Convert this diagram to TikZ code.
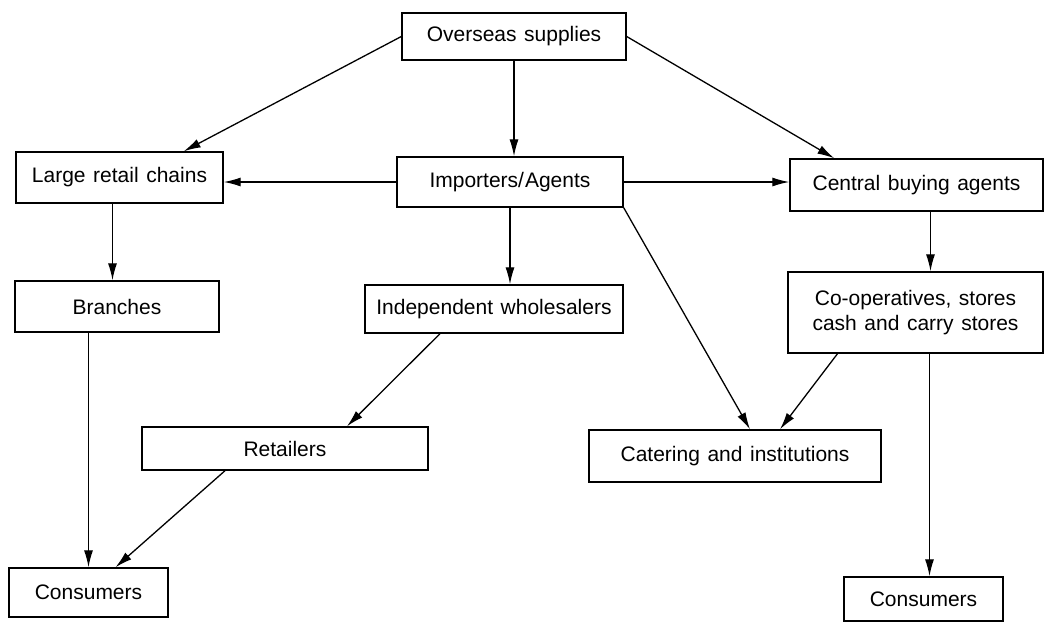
\documentclass[tikz,border=0pt]{standalone}
\usepackage{fontspec}
\setmainfont[WordSpace=1.3]{Liberation Sans}
\usetikzlibrary{arrows.meta}

\begin{document}
\begin{tikzpicture}[x=1pt, y=-1pt]
        \tikzstyle Box Node=[draw, line width=1.4pt, inner sep=0pt, align=center, font=\fontsize{21}{24.5}\selectfont]
        \tikzstyle Flow Line=[line width=1.3pt, -{Latex[length=17pt, width=9pt]}]

        \useasboundingbox (0, 0) rectangle (1045, 622);

        \node[Box Node, minimum width=224pt, minimum height=47pt] (over) at (514, 36.5) {Overseas supplies};
        \node[Box Node, minimum width=207pt, minimum height=51pt] (large) at (119.5, 177.5) {Large retail chains};
        \node[Box Node, minimum width=226pt, minimum height=50pt] (imp) at (510, 182) {Importers/\kern1pt Agents};
        \node[Box Node, minimum width=253pt, minimum height=52pt] (central) at (916.5, 185) {Central buying agents};
        \node[Box Node, minimum width=204pt, minimum height=51pt] (branches) at (117, 306.5) {Branches};
        \node[Box Node, minimum width=258pt, minimum height=48pt] (indep) at (494, 309) {Independent wholesalers};
        \node[Box Node, minimum width=255pt, minimum height=81pt] (coop) at (915.5, 312.5) {Co-operatives, stores\\cash and carry stores};
        \node[Box Node, minimum width=286pt, minimum height=43pt] (retail) at (285, 448.5) {Retailers};
        \node[Box Node, minimum width=292pt, minimum height=52pt] (cater) at (735, 456) {Catering and institutions};
        \node[Box Node, minimum width=159pt, minimum height=49pt] (consL) at (88.5, 592.5) {Consumers};
        \node[Box Node, minimum width=159pt, minimum height=44pt] (consR) at (923.5, 599) {Consumers};

        \draw[Flow Line] (over.west) -- ([xshift=-40pt]large.north east);
        \draw[Flow Line] (over.south) -- (over.south |- imp.north);
        \draw[Flow Line] (over.east) -- ([xshift=45pt]central.north west);
        \draw[Flow Line] (imp.west) -- (imp.west -| large.east);
        \draw[Flow Line] (imp.east) -- (imp.east -| central.west);
        \draw[Flow Line] (imp.south) -- (imp.south |- indep.north);
        \draw[Flow Line] (imp.south east) -- ([xshift=15pt]cater.north);
        \draw[Flow Line] ([xshift=-7pt]large.south) -- ([xshift=-7pt]large.south |- branches.north);
        \draw[Flow Line] (branches.south -| consL.north) -- (consL.north);
        \draw[Flow Line] ([xshift=-54pt]indep.south) -- ([xshift=62pt]retail.north);
        \draw[Flow Line] ([xshift=-60pt]retail.south) -- ([xshift=27pt]consL.north);
        \draw[Flow Line] ([xshift=-78pt]coop.south) -- ([xshift=45pt]cater.north);
        \draw[Flow Line] ([xshift=14pt]central.south) -- ([xshift=14pt]central.south |- coop.north);
        \draw[Flow Line] ([xshift=14pt]coop.south) -- ([xshift=14pt]coop.south |- consR.north);
    \end{tikzpicture}
\end{document}
